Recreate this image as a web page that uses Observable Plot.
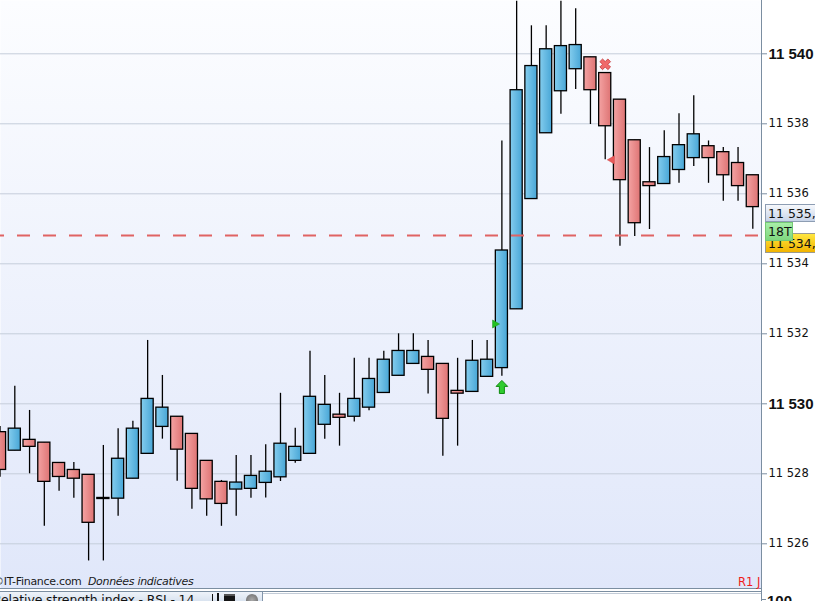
<!DOCTYPE html>
<html>
<head>
<meta charset="utf-8">
<script src="https://cdn.jsdelivr.net/npm/d3@7"></script>
<script src="https://cdn.jsdelivr.net/npm/@observablehq/plot@0.6"></script>
<style>
html, body { margin: 0; padding: 0; background: #ffffff; overflow: hidden; }
#wrap { position: relative; width: 815px; height: 601px; overflow: hidden; font-family: "DejaVu Sans", sans-serif; }
#wrap > svg { position: absolute; left: 0; top: 0; }
.ov { position: absolute; white-space: nowrap; }
</style>
</head>
<body>
<div id="wrap"></div>
<script>
// ---- Candle data (index 0 = leftmost, partially cut candle) ----
const opens = [
  11529.19, 11528.66, 11528.97, 11528.89, 11528.31, 11528.11, 11527.97, 11527.31, 11527.29, 11527.86,
  11528.57, 11529.34, 11529.63, 11529.14, 11528.37, 11527.77, 11527.55, 11527.57, 11527.74, 11527.90,
  11528.37, 11528.57, 11529.40, 11529.69, 11529.63, 11529.89, 11530.31, 11530.80, 11531.14, 11531.34,
  11531.14, 11530.37, 11530.34, 11530.77, 11531.02, 11532.70, 11535.85, 11537.73, 11538.93, 11539.56,
  11539.90, 11539.45, 11538.69, 11537.53, 11536.33, 11536.28, 11536.68, 11537.02, 11537.36, 11537.19,
  11536.88, 11536.53
];
const highs = [
  11529.35, 11530.50, 11529.81, 11528.89, 11528.31, 11528.32, 11527.97, 11528.81, 11529.29, 11529.50,
  11531.81, 11530.81, 11529.63, 11529.14, 11528.37, 11527.81, 11528.52, 11528.52, 11528.83, 11530.30,
  11529.30, 11531.50, 11530.81, 11530.30, 11531.30, 11531.30, 11531.50, 11532.00, 11532.00, 11531.81,
  11531.14, 11531.30, 11531.81, 11531.81, 11537.51, 11541.50, 11540.80, 11540.80, 11541.50, 11541.29,
  11539.90, 11539.45, 11538.69, 11537.53, 11537.32, 11537.80, 11538.29, 11538.80, 11537.51, 11537.32,
  11537.32, 11536.53
];
const lows = [
  11527.90, 11528.66, 11528.00, 11526.50, 11527.50, 11527.30, 11525.51, 11525.51, 11526.79, 11527.86,
  11528.57, 11528.99, 11527.79, 11526.99, 11526.79, 11526.50, 11526.79, 11527.30, 11527.31, 11527.78,
  11528.30, 11528.57, 11528.99, 11528.79, 11529.48, 11529.80, 11530.31, 11530.80, 11531.14, 11530.28,
  11528.50, 11528.79, 11530.34, 11530.77, 11530.79, 11532.70, 11535.85, 11537.73, 11538.27, 11538.98,
  11537.98, 11536.97, 11534.50, 11534.78, 11534.98, 11536.28, 11536.30, 11536.78, 11536.30, 11535.79,
  11535.79, 11534.99
];
const closes = [
  11528.11, 11529.29, 11528.77, 11527.77, 11527.91, 11527.86, 11526.60, 11527.28, 11528.43, 11529.29,
  11530.14, 11529.89, 11528.69, 11527.57, 11527.27, 11527.14, 11527.75, 11527.94, 11528.06, 11528.86,
  11528.77, 11530.20, 11529.97, 11529.60, 11530.14, 11530.71, 11531.26, 11531.51, 11531.51, 11530.97,
  11529.57, 11530.29, 11531.23, 11531.26, 11534.38, 11538.96, 11539.65, 11540.13, 11540.22, 11540.25,
  11538.96, 11537.93, 11536.39, 11535.16, 11536.22, 11537.05, 11537.39, 11537.70, 11537.02, 11536.53,
  11536.22, 11535.62
];

// ---- Axis ticks ----
const priceTicks = [11526, 11528, 11532, 11534, 11536, 11538];
const boldTicks = [11530, 11540];
const gridTicks = [11526, 11528, 11530, 11532, 11534, 11536, 11538, 11540];

// ---- Annotations ----
const dashLevel = [11534.81];
const sellSignals = [{i: 41, price: 11539.70}];
const buySignals = [{i: 34, price: 11530.48}];
const greenFlags = [{i: 34, price: 11532.28}];
const redFlags = [{i: 42, price: 11536.97}];
const bidLabel = {price: 11535.42, text: "11 535,45"};
const lastLabel = {price: 11534.81, text: "11 534,81"};
const timeLabel = "18T";
const rsiTitle = "Relative strength index - RSI - 14";
const rsiTop = "100";

const xDomain = [0.031, 51.589];
const yDomain = [11524.723, 11541.523];

const candles = opens.map((o, i) => ({i, open: o, high: highs[i], low: lows[i], close: closes[i]}));
const fmt = d => d3.format(",")(d).replace(/,/g, " ");

const arrowUp = {draw(ctx) {
  ctx.moveTo(0, -6.6); ctx.lineTo(5.8, -0.6); ctx.lineTo(2.5, -0.6); ctx.lineTo(2.5, 6.5);
  ctx.lineTo(-2.5, 6.5); ctx.lineTo(-2.5, -0.6); ctx.lineTo(-5.8, -0.6); ctx.closePath();
}};
const crossX = {draw(ctx) {
  const a = 4, q = 1.35;
  const pts = [[0,-2*q],[a-q,-a-q],[a+q,-a+q],[2*q,0],[a+q,a-q],[a-q,a+q],[0,2*q],[-a+q,a+q],[-a-q,a-q],[-2*q,0],[-a-q,-a+q],[-a+q,-a-q]];
  ctx.moveTo(pts[0][0], pts[0][1]);
  for (let k = 1; k < pts.length; k++) ctx.lineTo(pts[k][0], pts[k][1]);
  ctx.closePath();
}};

const axisColor = "#7b8ea1";

const chart = Plot.plot({
  width: 815,
  height: 589,
  marginLeft: 0,
  marginRight: 54,
  marginTop: 0,
  marginBottom: 1,
  style: {fontFamily: "DejaVu Sans, sans-serif", background: "transparent", overflow: "visible", color: "#111"},
  x: {domain: xDomain, axis: null},
  y: {domain: yDomain},
  marks: [
    Plot.frame({fill: "url(#gBg)", stroke: "none"}),
    Plot.gridY(gridTicks, {stroke: "#c5cedb", strokeOpacity: 1}),
    Plot.ruleX(candles, {x: "i", y1: "low", y2: "high", stroke: "#000", strokeWidth: 1.3}),
    Plot.rect(candles.filter(d => d.close >= d.open), {
      x1: d => d.i - 0.41, x2: d => d.i + 0.41, y1: "open", y2: "close",
      fill: "url(#gBlue)", stroke: "#000", strokeWidth: 1.3
    }),
    Plot.rect(candles.filter(d => d.close < d.open), {
      x1: d => d.i - 0.41, x2: d => d.i + 0.41, y1: "open", y2: "close",
      fill: "url(#gRed)", stroke: "#000", strokeWidth: 1.3
    }),
    Plot.ruleY(dashLevel, {stroke: "#e06363", strokeWidth: 2, strokeDasharray: "13,13", strokeDashoffset: 9}),
    Plot.dot(redFlags, {x: "i", y: "price", dx: -8, symbol: "triangle", rotate: -90, r: 3, fill: "#e85a5a", stroke: "#d04040", strokeWidth: 0.5}),
    Plot.dot(greenFlags, {x: "i", y: "price", dx: -7, symbol: "triangle", rotate: 90, r: 3, fill: "#22c022", stroke: "#129012", strokeWidth: 0.5}),
    Plot.dot(buySignals, {x: "i", y: "price", symbol: arrowUp, fill: "#2fcc2f", stroke: "#0f8a0f", strokeWidth: 1}),
    Plot.dot(sellSignals, {x: "i", y: "price", symbol: crossX, fill: "#f06a6a", stroke: "#c43a3a", strokeWidth: 0.8}),
    Plot.ruleX([xDomain[1]], {stroke: axisColor, strokeWidth: 1}),
    Plot.ruleY([yDomain[0]], {stroke: axisColor, strokeWidth: 1}),
    Plot.axisY(priceTicks, {anchor: "right", tickSize: 5, tickPadding: 2, tickFormat: fmt,
      fontSize: 11.5, fontFamily: "DejaVu Sans", stroke: axisColor, fill: "#111"}),
    Plot.axisY(boldTicks, {anchor: "right", tickSize: 5, tickPadding: 2, tickFormat: fmt,
      fontSize: 15, fontWeight: "bold", fontFamily: "Liberation Sans", stroke: axisColor, fill: "#111"})
  ]
});

// gradients
const defs = d3.select(chart).insert("defs", ":first-child");
function grad(id, horizontal, stops) {
  const g = defs.append("linearGradient").attr("id", id)
    .attr("x1", 0).attr("y1", 0).attr("x2", horizontal ? 1 : 0).attr("y2", horizontal ? 0 : 1);
  stops.forEach(([o, c]) => g.append("stop").attr("offset", o).attr("stop-color", c));
}
grad("gBg", false, [[0, "#fcfdff"], [1, "#e0e7fa"]]);
grad("gBlue", true, [[0, "#84cdee"], [1, "#48a6d6"]]);
grad("gRed", true, [[0, "#f4a3a3"], [1, "#de7474"]]);

const wrap = document.getElementById("wrap");
wrap.appendChild(chart);

const ys = chart.scale("y");
function add(html, style) {
  const d = document.createElement("div");
  d.className = "ov";
  d.setAttribute("style", style);
  d.innerHTML = html;
  wrap.appendChild(d);
  return d;
}

// price boxes in right margin
const yb = ys.apply(bidLabel.price);
const yl = ys.apply(lastLabel.price);
add(bidLabel.text, `left:765px;top:${yb - 9.5}px;width:60px;height:18px;box-sizing:border-box;border:1px solid #8d9db3;background:linear-gradient(#f6f8fc,#c8d4e8);font:12.5px/17px 'DejaVu Sans';padding-left:2px;color:#111;`);
add(lastLabel.text, `left:765px;top:${yl - 1.5}px;width:60px;height:20px;box-sizing:border-box;border:1px solid #9a9a90;background:linear-gradient(#ffe640,#f2b400);font:12.5px/19px 'DejaVu Sans';padding-left:2px;color:#111;`);
add(timeLabel, `left:765px;top:${yb + 8.5}px;width:28px;height:19px;box-sizing:border-box;border:1px solid #74c874;background:linear-gradient(#a8eea8,#7fd87f);font:12.5px/18px 'DejaVu Sans';padding-left:2px;color:#111;`);

// footer texts inside the plot
add(`©IT-Finance.com&nbsp; <i>Données indicatives</i>`, `left:-7px;top:576px;font:11px/12px 'DejaVu Sans';letter-spacing:-0.3px;color:#1a1a1a;`);
add(`R1 J`, `left:738px;top:576px;font:11.5px/12px 'DejaVu Sans';color:#f01c1c;`);

// RSI panel header (bottom strip)
add("", `left:0;top:591px;width:761px;height:1px;background:${axisColor};`);
add("", `left:0;top:592px;width:262px;height:12px;background:linear-gradient(#eef3fa,#d3deec);border-right:1px solid #8395aa;`);
add("", `left:263px;top:593px;width:498px;height:1px;background:#c3ccd8;`);
add("", `left:761px;top:588px;width:1px;height:14px;background:${axisColor};`);
add("", `left:761px;top:599px;width:5px;height:1px;background:${axisColor};`);
add(rsiTitle, `left:-7px;top:593px;font:12.5px/14px 'DejaVu Sans';letter-spacing:-0.15px;color:#111;`);
add("", `left:212px;top:594px;width:4px;height:7px;border:1.5px solid #111;border-top:none;`);
add("", `left:217px;top:593px;width:2px;height:8px;background:#111;`);
add("", `left:224px;top:594px;width:11px;height:8px;background:#151515;border-top:2px solid #555;`);
add("", `left:246px;top:594px;width:12px;height:12px;border-radius:50%;background:radial-gradient(#aaa,#666);`);
add(rsiTop, `left:767px;top:593px;font:bold 15px/16px 'Liberation Sans';color:#111;`);
</script>
</body>
</html>
